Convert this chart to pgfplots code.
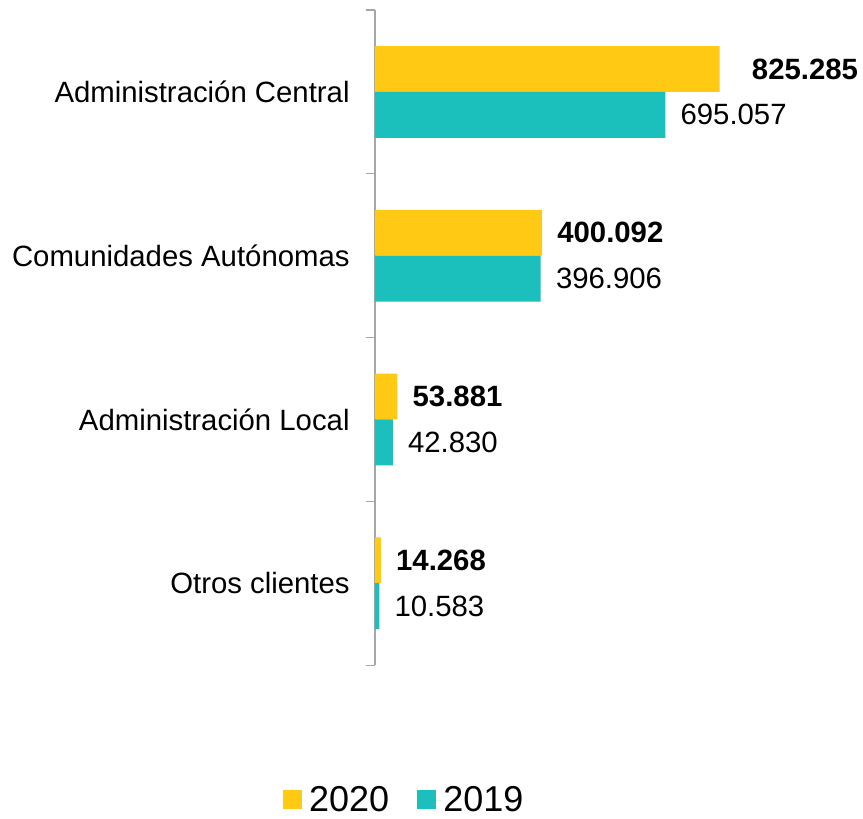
\documentclass[border=0pt]{standalone}
\usepackage{fontspec}
\setmainfont{Liberation Sans}
\usepackage{pgfplots}
\pgfplotsset{compat=1.18}
\definecolor{cy}{HTML}{FFC914}
\definecolor{ct}{HTML}{1BBFBC}
\definecolor{axgray}{HTML}{A6A6A6}
\begin{document}
\begin{tikzpicture}
\begin{axis}[
  scale only axis, width=282pt, height=491.25pt,
  xmin=0, xmax=900, ymin=-0.5, ymax=3.5,
  axis x line=none, axis y line*=left,
  y axis line style={axgray, line width=0.9pt},
  ytick={0,1,2,3},
  yticklabels={Otros clientes, Administración Local, Comunidades Autónomas, Administración Central},
  major tick length=0pt,
  yticklabel style={font=\fontsize{22}{26}\selectfont, inner sep=0pt, xshift=-18.75pt},
  extra y ticks={-0.5,0.5,1.5,2.5,3.5},
  extra y tick labels={},
  extra y tick style={major tick length=6.75pt, tick align=outside, tick style={axgray, line width=0.9pt}},
  xbar, bar width=0.28, bar shift=0pt,
  clip=false,
  legend style={at={(rel axis cs:0.079,-0.206)}, anchor=center, draw=none, fill=none,
    legend columns=2, font=\fontsize{27}{32}\selectfont,
    /tikz/every even column/.append style={column sep=19pt}},
  legend image code/.code={\fill[#1] (0pt,-7pt) rectangle (14.25pt,7.25pt); \path (0pt,0pt) -- (17.5pt,0pt);},
]
\addplot[fill=cy, draw=none] coordinates {(825.285,3.14) (400.092,2.14) (53.881,1.14) (14.268,0.14)};
\addlegendentry{2020}
\addplot[fill=ct, draw=none] coordinates {(695.057,2.86) (396.906,1.86) (42.830,0.86) (10.583,-0.14)};
\addlegendentry{2019}
\begin{scope}[every node/.style={font=\fontsize{22}{26}\selectfont, anchor=west, inner sep=0pt}]
\node at (axis cs:901.8,3.14) {\textbf{825.285}};
\node[xshift=11.25pt] at (axis cs:695.057,2.86) {695.057};
\node[xshift=11.25pt] at (axis cs:400.092,2.14) {\textbf{400.092}};
\node[xshift=11.25pt] at (axis cs:396.906,1.86) {396.906};
\node[xshift=11.25pt] at (axis cs:53.881,1.14) {\textbf{53.881}};
\node[xshift=11.25pt] at (axis cs:42.830,0.86) {42.830};
\node[xshift=11.25pt] at (axis cs:14.268,0.14) {\textbf{14.268}};
\node[xshift=11.25pt] at (axis cs:10.583,-0.14) {10.583};
\end{scope}
\path (rel axis cs:-0.997,1.0153) rectangle (rel axis cs:1.298,-0.232);
\end{axis}
\end{tikzpicture}
\end{document}
